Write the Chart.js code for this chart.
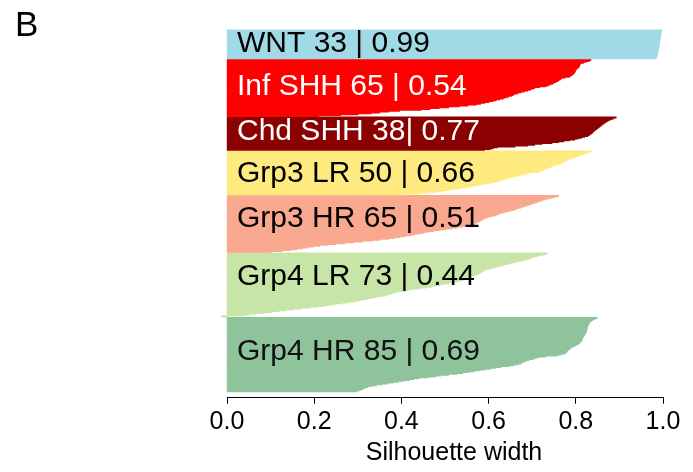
<!DOCTYPE html>
<html>
<head>
<meta charset="utf-8">
<script src="https://cdn.jsdelivr.net/npm/chart.js@4"></script>
<style>
	html, body { margin: 0; padding: 0; background: #fff; }
	#wrap { width: 693px; height: 472px; }
</style>
</head>
<body>
<div id="wrap"><canvas id="silChart"></canvas></div>
<script>
// silhouette widths per cluster, sorted as drawn (top to bottom)
const clusterNames = ["WNT", "Inf SHH", "Chd SHH", "Grp3 LR", "Grp3 HR", "Grp4 LR", "Grp4 HR"];
const clusterLabels = [
	"WNT 33 | 0.99",
	"Inf SHH 65 | 0.54",
	"Chd SHH 38| 0.77",
	"Grp3 LR 50 | 0.66",
	"Grp3 HR 65 | 0.51",
	"Grp4 LR 73 | 0.44",
	"Grp4 HR 85 | 0.69"
];

const wnt = [0.996, 0.996, 0.995, 0.995, 0.995, 0.994, 0.994, 0.994, 0.993, 0.993, 0.993, 0.992, 0.992, 0.992, 0.991, 0.991, 0.991,
	0.990, 0.990, 0.990, 0.989, 0.989, 0.989, 0.988, 0.988, 0.988, 0.987, 0.987, 0.986, 0.986, 0.985, 0.984, 0.983];

const infShh = [0.834, 0.830, 0.823, 0.817, 0.811, 0.809, 0.808, 0.808, 0.806, 0.804, 0.802, 0.800, 0.799, 0.798, 0.797, 0.796,
	0.793, 0.791, 0.788, 0.785, 0.775, 0.767, 0.764, 0.761, 0.758, 0.754, 0.750, 0.746, 0.740, 0.736, 0.730, 0.716, 0.705,
	0.700, 0.695, 0.689, 0.681, 0.674, 0.667, 0.660, 0.656, 0.652, 0.645, 0.638, 0.633, 0.625, 0.617, 0.609, 0.600, 0.591,
	0.581, 0.571, 0.552, 0.532, 0.508, 0.486, 0.465, 0.445, 0.395, 0.370, 0.350, 0.330, 0.300, 0.260, 0.210];

const chdShh = [0.892, 0.886, 0.881, 0.876, 0.872, 0.869, 0.866, 0.863, 0.860, 0.858, 0.855, 0.853, 0.850, 0.848, 0.845, 0.842,
	0.840, 0.838, 0.836, 0.833, 0.830, 0.827, 0.820, 0.813, 0.805, 0.797, 0.785, 0.772, 0.760, 0.745, 0.722, 0.705, 0.689,
	0.660, 0.620, 0.610, 0.603, 0.590];

const grp3Lr = [0.835, 0.828, 0.822, 0.817, 0.812, 0.807, 0.801, 0.795, 0.789, 0.783, 0.779, 0.775, 0.771, 0.767, 0.762, 0.756,
	0.750, 0.744, 0.738, 0.733, 0.728, 0.724, 0.720, 0.715, 0.695, 0.685, 0.678, 0.670, 0.662, 0.655, 0.647, 0.640, 0.633,
	0.626, 0.620, 0.612, 0.603, 0.592, 0.582, 0.572, 0.560, 0.548, 0.535, 0.522, 0.510, 0.495, 0.480, 0.462, 0.440, 0.410];

const grp3Hr = [0.760, 0.752, 0.744, 0.735, 0.728, 0.722, 0.716, 0.710, 0.704, 0.698, 0.692, 0.686, 0.680, 0.674, 0.668, 0.662,
	0.656, 0.648, 0.640, 0.632, 0.625, 0.621, 0.616, 0.608, 0.600, 0.594, 0.589, 0.585, 0.582, 0.578, 0.574, 0.570, 0.566,
	0.560, 0.550, 0.540, 0.528, 0.515, 0.502, 0.488, 0.474, 0.462, 0.451, 0.440, 0.430, 0.420, 0.408, 0.395, 0.383, 0.370,
	0.350, 0.333, 0.310, 0.290, 0.270, 0.250, 0.230, 0.212, 0.198, 0.185, 0.172, 0.160, 0.145, 0.125, 0.100];

const grp4Lr = [0.735, 0.728, 0.720, 0.711, 0.702, 0.696, 0.691, 0.684, 0.675, 0.667, 0.658, 0.650, 0.642, 0.634, 0.626, 0.619,
	0.611, 0.603, 0.595, 0.590, 0.586, 0.584, 0.581, 0.577, 0.572, 0.566, 0.560, 0.555, 0.550, 0.545, 0.541, 0.537, 0.528,
	0.518, 0.508, 0.498, 0.488, 0.478, 0.468, 0.456, 0.440, 0.425, 0.413, 0.402, 0.390, 0.381, 0.375, 0.368, 0.363, 0.353,
	0.342, 0.331, 0.321, 0.311, 0.301, 0.290, 0.278, 0.262, 0.247, 0.235, 0.222, 0.206, 0.190, 0.170, 0.152, 0.136, 0.118,
	0.102, 0.086, 0.066, 0.050, 0.036, -0.012];

const grp4Hr = [0.848, 0.843, 0.839, 0.836, 0.833, 0.831, 0.830, 0.829, 0.828, 0.827, 0.826, 0.826, 0.825, 0.825, 0.824, 0.824,
	0.823, 0.822, 0.821, 0.820, 0.818, 0.817, 0.816, 0.815, 0.814, 0.814, 0.813, 0.811, 0.809, 0.807, 0.804, 0.800, 0.797,
	0.793, 0.789, 0.787, 0.784, 0.781, 0.779, 0.779, 0.776, 0.772, 0.764, 0.756, 0.730, 0.714, 0.706, 0.701, 0.692, 0.685,
	0.680, 0.676, 0.673, 0.667, 0.658, 0.645, 0.628, 0.615, 0.603, 0.590, 0.578, 0.566, 0.553, 0.540, 0.528, 0.508, 0.490,
	0.477, 0.460, 0.440, 0.428, 0.418, 0.405, 0.392, 0.380, 0.368, 0.355, 0.342, 0.330, 0.322, 0.316, 0.312, 0.308, 0.302,
	0.297];

const xTicks = [0, 0.2, 0.4, 0.6, 0.8, 1.0];
const xTitle = "Silhouette width";

const clusterValues = [wnt, infShh, chdShh, grp3Lr, grp3Hr, grp4Lr, grp4Hr];
const clusterColors = ["#A0DAE6", "#FF0000", "#8B0000", "#FFEA80", "#F9A98F", "#C7E5A7", "#8FC39C"];
const textColors = ["#000", "#fff", "#fff", "#000", "#000", "#000", "#111"];
const textShift = [-1, -1, -2, 1, -5, -8, -3];
const fontFamily = "'Liberation Sans', Arial, sans-serif";

// one bar slot per sample, one empty slot between clusters (like R's barplot space)
let pos = 0;
const clusterMid = [];
const datasets = clusterValues.map((vals, k) => {
	const start = pos;
	const data = vals.map(v => ({ x: v, y: pos++ }));
	clusterMid.push((start + pos - 1) / 2);
	pos++;
	return {
		label: clusterNames[k],
		data: data,
		backgroundColor: clusterColors[k],
		borderWidth: 0,
		inflateAmount: 0.6,
		grouped: false,
		barPercentage: 1,
		categoryPercentage: 1,
		clip: false
	};
});
const lastPos = pos - 2;

const textPlugin = {
	id: "clusterText",
	afterDatasetsDraw(chart) {
		const c = chart.ctx;
		const xs = chart.scales.x;
		const ys = chart.scales.y;
		c.save();
		c.font = "30px " + fontFamily;
		c.textAlign = "left";
		c.textBaseline = "middle";
		clusterLabels.forEach((t, k) => {
			c.fillStyle = textColors[k];
			c.fillText(t, xs.getPixelForValue(0) + 10, ys.getPixelForValue(clusterMid[k]) + textShift[k]);
		});
		// axis title, sits a bit right of the axis centre like in the R plot
		c.fillStyle = "#000";
		c.font = "25px " + fontFamily;
		c.textAlign = "center";
		c.fillText(xTitle, (xs.left + xs.right) / 2 + 9, 453);
		// panel letter
		c.font = "35px " + fontFamily;
		c.textAlign = "left";
		c.textBaseline = "alphabetic";
		c.fillText("B", 15, 36);
		c.restore();
	}
};

new Chart(document.getElementById("silChart"), {
	type: "bar",
	data: { datasets: datasets },
	options: {
		indexAxis: "y",
		responsive: true,
		maintainAspectRatio: false,
		animation: false,
		layout: {
			padding: { left: 227, right: 30, top: 30, bottom: 30.7 }
		},
		plugins: {
			legend: { display: false },
			tooltip: { enabled: false }
		},
		scales: {
			y: {
				type: "linear",
				reverse: true,
				offset: false,
				bounds: "data",
				grace: 0,
				min: -0.5,
				max: lastPos + 7.4,
				display: false
			},
			x: {
				type: "linear",
				min: 0,
				max: 1,
				afterBuildTicks: axis => {
					axis.ticks = xTicks.map(v => ({ value: v }));
				},
				border: { display: true, color: "#000", width: 1 },
				grid: {
					drawOnChartArea: false,
					drawTicks: true,
					tickLength: 6,
					color: "#000"
				},
				ticks: {
					color: "#000",
					padding: 3.8,
					maxRotation: 0,
					font: { family: fontFamily, size: 25 },
					callback: v => v.toFixed(1)
				}
			}
		}
	},
	plugins: [textPlugin]
});
</script>
</body>
</html>
